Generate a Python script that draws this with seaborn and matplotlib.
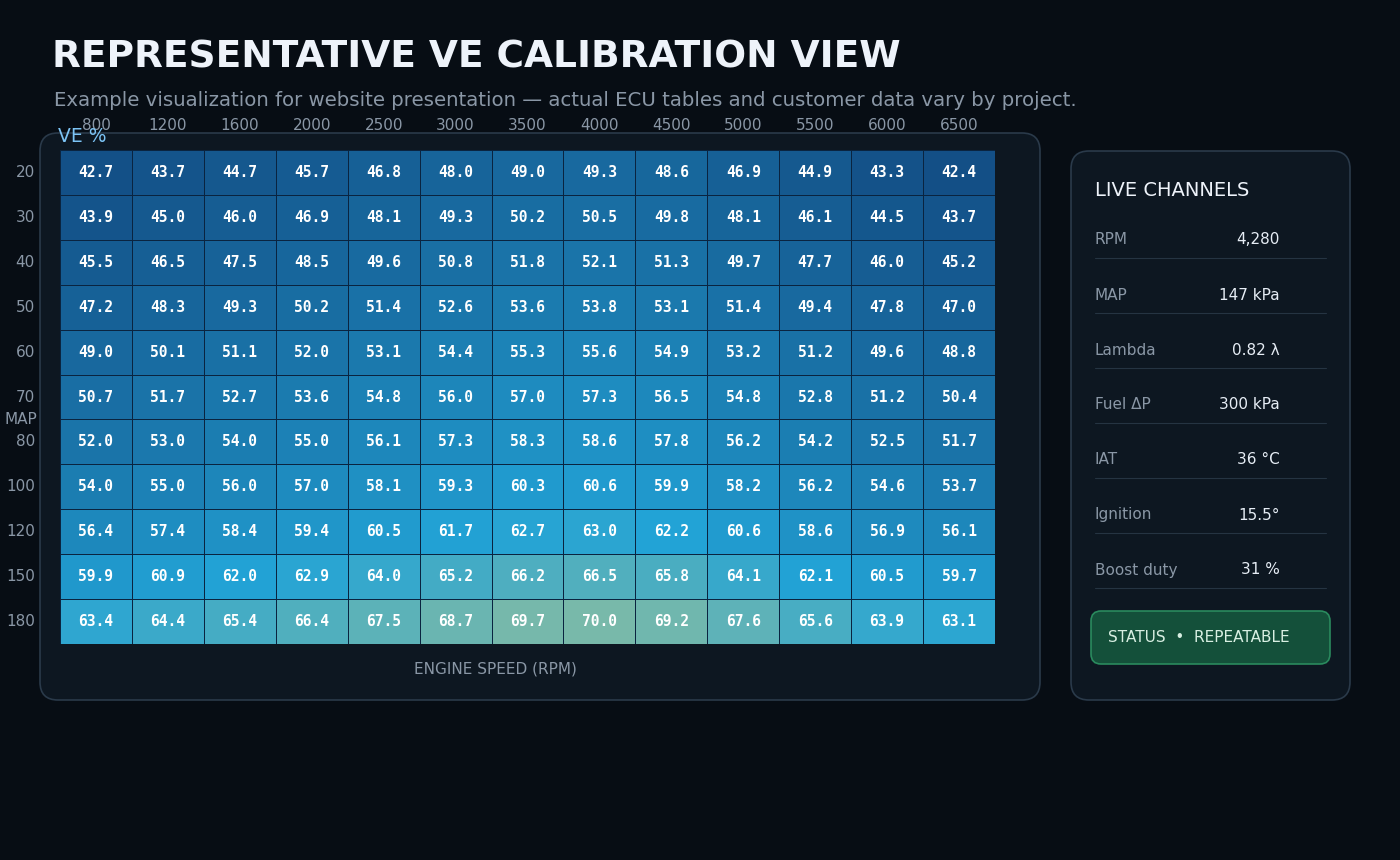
import numpy as np
import pandas as pd
import matplotlib
matplotlib.use("Agg")
import matplotlib.pyplot as plt
import seaborn as sns
from matplotlib.colors import LinearSegmentedColormap
from matplotlib.patches import FancyBboxPatch

rpm = [800, 1200, 1600, 2000, 2500, 3000, 3500, 4000, 4500, 5000, 5500, 6000, 6500]
map_kpa = [20, 30, 40, 50, 60, 70, 80, 100, 120, 150, 180]
ve = [
    [42.7, 43.7, 44.7, 45.7, 46.8, 48.0, 49.0, 49.3, 48.6, 46.9, 44.9, 43.3, 42.4],
    [43.9, 45.0, 46.0, 46.9, 48.1, 49.3, 50.2, 50.5, 49.8, 48.1, 46.1, 44.5, 43.7],
    [45.5, 46.5, 47.5, 48.5, 49.6, 50.8, 51.8, 52.1, 51.3, 49.7, 47.7, 46.0, 45.2],
    [47.2, 48.3, 49.3, 50.2, 51.4, 52.6, 53.6, 53.8, 53.1, 51.4, 49.4, 47.8, 47.0],
    [49.0, 50.1, 51.1, 52.0, 53.1, 54.4, 55.3, 55.6, 54.9, 53.2, 51.2, 49.6, 48.8],
    [50.7, 51.7, 52.7, 53.6, 54.8, 56.0, 57.0, 57.3, 56.5, 54.8, 52.8, 51.2, 50.4],
    [52.0, 53.0, 54.0, 55.0, 56.1, 57.3, 58.3, 58.6, 57.8, 56.2, 54.2, 52.5, 51.7],
    [54.0, 55.0, 56.0, 57.0, 58.1, 59.3, 60.3, 60.6, 59.9, 58.2, 56.2, 54.6, 53.7],
    [56.4, 57.4, 58.4, 59.4, 60.5, 61.7, 62.7, 63.0, 62.2, 60.6, 58.6, 56.9, 56.1],
    [59.9, 60.9, 62.0, 62.9, 64.0, 65.2, 66.2, 66.5, 65.8, 64.1, 62.1, 60.5, 59.7],
    [63.4, 64.4, 65.4, 66.4, 67.5, 68.7, 69.7, 70.0, 69.2, 67.6, 65.6, 63.9, 63.1],
]
channels = ["RPM", "MAP", "Lambda", "Fuel ΔP", "IAT", "Ignition", "Boost duty"]
readings = ["4,280", "147 kPa", "0.82 λ", "300 kPa", "36 °C", "15.5°", "31 %"]

W, H = 1400, 860
BG = "#070d14"
PANEL = "#0d1721"
EDGE = "#2a3a4a"
GREY = "#8a97a6"

sns.set_theme(style="white")
plt.rcParams['font.family'] = ['DejaVu Sans']

fig = plt.figure(figsize=(14, 8.6), dpi=100, facecolor=BG)

def px(x, y):
    return x / W, 1 - y / H

def box(x0, y0, x1, y1, fc, ec, r=18, z=0):
    fig.patches.append(FancyBboxPatch(px(x0, y1), (x1 - x0) / W, (y1 - y0) / H,
                                      boxstyle=f"round,pad=0,rounding_size={r / W}",
                                      transform=fig.transFigure, fc=fc, ec=ec, lw=1.2,
                                      mutation_aspect=W / H, zorder=z))

box(40, 133, 1040, 700, PANEL, EDGE)
box(1071, 151, 1350, 700, PANEL, EDGE)

fig.text(*px(52, 58), "REPRESENTATIVE VE CALIBRATION VIEW", color="#eef3fa",
         fontsize=27, fontweight="bold", va="center")
fig.text(*px(54, 101), "Example visualization for website presentation — actual ECU tables and customer data vary by project.",
         color=GREY, fontsize=14.2, va="center")

cmap = LinearSegmentedColormap.from_list("ve", [(0, "#134f86"), (0.36, "#1a75aa"),
                                                (0.72, "#22a3d6"), (1, "#78b9aa")])
df = pd.DataFrame(ve, index=map_kpa, columns=rpm)
ax = fig.add_axes([60 / W, 1 - 644 / H, 935 / W, 494 / H])
ax.set_zorder(5)
ax.patch.set_alpha(0)
sns.heatmap(df, ax=ax, cmap=cmap, vmin=42.4, vmax=70.0, cbar=False, annot=True, fmt=".1f",
            linewidths=0.6, linecolor="#0a2440",
            annot_kws={"color": "white", "fontsize": 10.5, "fontweight": "bold", "family": "DejaVu Sans Mono"})
ax.xaxis.tick_top()
ax.tick_params(axis="x", colors=GREY, labelsize=11, length=0, pad=12, rotation=0)
ax.tick_params(axis="y", colors=GREY, labelsize=11, length=0, pad=18, rotation=0)
ax.set_xlabel("")
ax.set_ylabel("")
for s in ax.spines.values():
    s.set_visible(False)

fig.text(*px(58, 137), "VE %", color="#7cc4f5", fontsize=13.5, va="center", zorder=6)
fig.text(*px(5, 420), "MAP", color=GREY, fontsize=11, va="center")
fig.text(*px(495, 669), "ENGINE SPEED (RPM)", color=GREY, fontsize=11, va="center", ha="center")

fig.text(*px(1095, 190), "LIVE CHANNELS", color="#eef3fa", fontsize=14, va="center")
for i, (name, val) in enumerate(zip(channels, readings)):
    y = 240 + 55 * i
    fig.text(*px(1095, y), name, color=GREY, fontsize=11, va="center")
    fig.text(*px(1280, y), val, color="#e6edf5", fontsize=11, va="center", ha="right")
    fig.add_artist(plt.Line2D([1095 / W, 1326 / W], [1 - (y + 18) / H] * 2,
                              color="#253442", lw=0.8, transform=fig.transFigure))

box(1091, 611, 1330, 664, "#14503a", "#2a8a5e", r=10)
fig.text(*px(1108, 637), "STATUS  •  REPEATABLE", color="#d8efe2", fontsize=11, va="center")

fig.savefig("out.png", dpi=100, facecolor=BG)
